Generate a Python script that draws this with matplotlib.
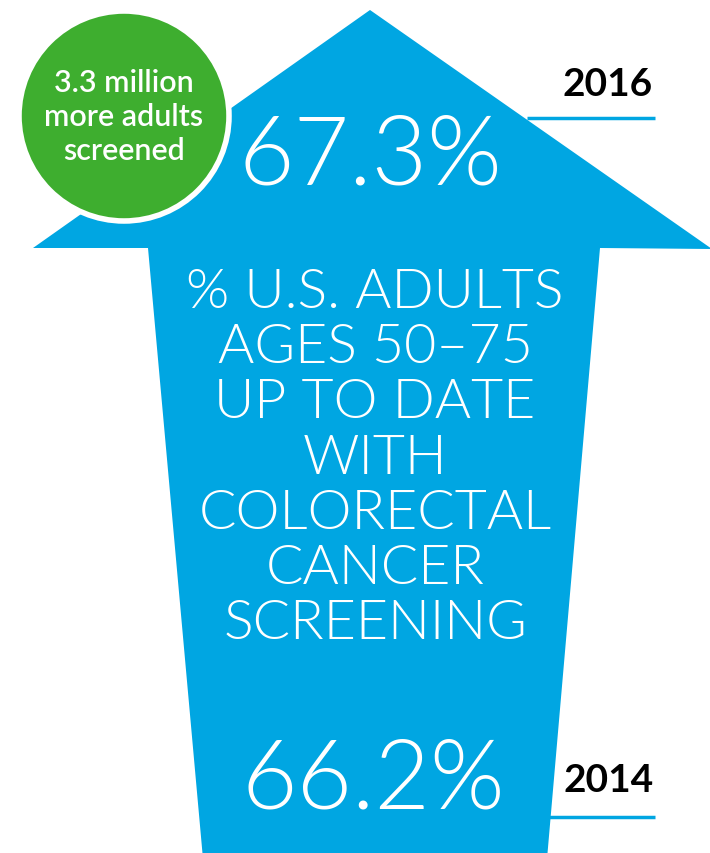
import matplotlib
matplotlib.use("Agg")
import matplotlib.pyplot as plt
from matplotlib.patches import Polygon, Circle

# screening rates by year
years = ["2014", "2016"]
rates = [66.2, 67.3]
extra_screened = "3.3 million\nmore adults\nscreened"
label_lines = ["% U.S. ADULTS", "AGES 50\u201375", "UP TO DATE", "WITH",
               "COLORECTAL", "CANCER", "SCREENING"]

BLUE = "#00A6E2"
GREEN = "#3EAE2F"

W, H = 710, 854
fig = plt.figure(figsize=(W / 100, H / 100), dpi=100)
ax = fig.add_axes([0, 0, 1, 1])
ax.set_xlim(0, W)
ax.set_ylim(H, 0)
ax.axis("off")

# arrow outline (pixel space)
arrow = [(370, 11), (712, 250), (600, 249), (547, 860),
         (203, 860), (148, 249), (33, 249)]
ax.add_patch(Polygon(arrow, closed=True, facecolor=BLUE, edgecolor="none"))

# badge
ax.add_patch(Circle((124, 117), 105, facecolor=GREEN, edgecolor="white", lw=4, zorder=3))
ax.text(124, 117, extra_screened, color="white", fontsize=22, family="Lato",
        fontweight="semibold", ha="center", va="center", linespacing=1.25, zorder=4)

# big percentages, 2016 at top, 2014 at bottom
pos = {"2016": (370, 158), "2014": (373, 782)}
for yr, r in zip(years, rates):
    x, y = pos[yr]
    ax.text(x, y, f"{r:.1f}%", color="white", fontsize=69, family="Lato",
            fontweight=300, ha="center", va="center")

# year labels with underline
year_pos = {"2016": (608, 84, 527, 655, 119), "2014": (609, 781, 548, 655, 818)}
for yr in years:
    tx, ty, x0, x1, ly = year_pos[yr]
    ax.text(tx, ty, yr, color="black", fontsize=28, family="Lato",
            fontweight="bold", ha="center", va="center")
    ax.plot([x0, x1], [ly, ly], color=BLUE, lw=2.5, solid_capstyle="butt")

# description in the shaft
for i, line in enumerate(label_lines):
    ax.text(375, 293 + i * 55.2, line, color="white", fontsize=40, family="Lato",
            fontweight=300, ha="center", va="center")

fig.savefig("out.png", dpi=100)
